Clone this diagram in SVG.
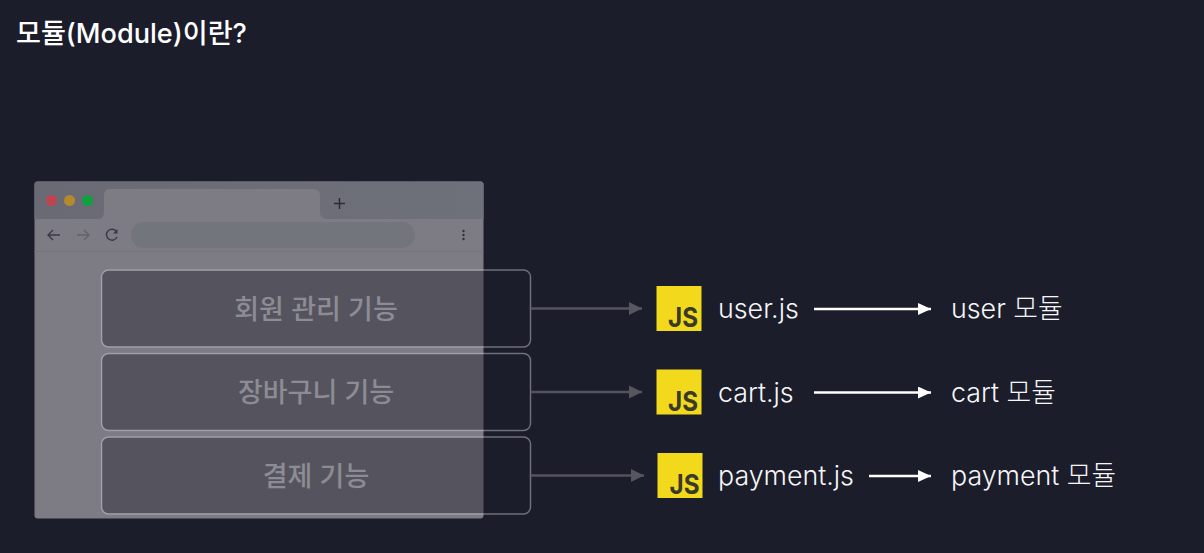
<svg xmlns="http://www.w3.org/2000/svg" width="1204" height="553" viewBox="0 0 1204 553">
<defs>
<linearGradient id="chrome" x1="0" y1="0" x2="1" y2="0"><stop offset="0" stop-color="#696a74"/><stop offset="1" stop-color="#6f717a"/></linearGradient>
<marker id="gh" markerUnits="userSpaceOnUse" markerWidth="14" markerHeight="14" refX="13" refY="7" orient="auto"><path d="M0,0.5 L13,7 L0,13.5 Z" fill="#56565f"/></marker>
<marker id="wh" markerUnits="userSpaceOnUse" markerWidth="14" markerHeight="14" refX="13" refY="6" orient="auto"><path d="M0,0 L13,6 L0,12 Z" fill="#fff"/></marker>
</defs>
<style>
text{font-family:"Inter","Noto Sans CJK KR",sans-serif}
.t{font-size:26.800px;font-weight:300;fill:#f6f6f8}
.f{font-size:27px;font-weight:500;fill:#8d8c95;text-anchor:middle}
.boxfill{fill:#55545e}
.boxo{fill:#1b1d2b;stroke:#6f6f78;stroke-width:1.500}
.edge{fill:none;stroke:#a2a1aa;stroke-width:1.500}
.g{stroke:#53535c;stroke-width:2.500;fill:none;marker-end:url(#gh)}
.w{stroke:#fff;stroke-width:2.500;fill:none;marker-end:url(#wh)}
.yel{fill:#f3d91b}
.js{font-size:27.500px;font-weight:700;fill:#3a3a2a}
</style>
<rect width="1204" height="553" fill="#1b1d2b"/>
<text x="16" y="43" font-size="27.100" font-weight="500" fill="#fff">모듈(Module)이란?</text>

<g id="browser">
<rect x="34.500" y="181.500" width="449" height="337" rx="3" fill="#7d7c85"/>
<path d="M34.500,219 V184.500 a3,3 0 0 1 3,-3 H480.500 a3,3 0 0 1 3,3 V219 Z" fill="url(#chrome)"/>
<path d="M99,219 Q104,218 104,212 V195 Q104,189 110,189 H313 Q320,189 320,195 V212 Q320,218 326,219 Z" fill="#7d7c85"/>
<circle cx="51.500" cy="200.500" r="5.500" fill="#bf4350"/>
<circle cx="69.500" cy="200.500" r="5.500" fill="#b58a2c"/>
<circle cx="87.500" cy="200.500" r="5.500" fill="#0ea13f"/>
<path d="M339.500,198 V209 M334,203.500 H345" stroke="#2b2c36" stroke-width="1.500" fill="none"/>
<rect x="131" y="222" width="284" height="26" rx="13" fill="#73757c"/>
<path d="M60,235 H48 M53,230 L48,235 L53,240" stroke="#393a44" stroke-width="1.400" fill="none"/>
<path d="M77,235 H89 M84,230 L89,235 L84,240" stroke="#62626b" stroke-width="1.400" fill="none"/>
<path d="M116.500,231.500 A5.500,5.500 0 1 0 117,237" stroke="#393a44" stroke-width="1.400" fill="none"/>
<path d="M117.500,229 V233.500 H113" fill="#393a44"/>
<circle cx="463.500" cy="231" r="1.200" fill="#30313a"/><circle cx="463.500" cy="235" r="1.200" fill="#30313a"/><circle cx="463.500" cy="239" r="1.200" fill="#30313a"/>
<path d="M34.500,251.500 H483.500" stroke="#73737c" stroke-width="1"/>
</g>

<g id="node-user">
<rect class="boxo" x="101.500" y="270" width="429" height="77" rx="7"/>
<path class="boxfill" d="M483.500,270 H108.500 a7,7 0 0 0 -7,7 V340 a7,7 0 0 0 7,7 H483.500 Z"/>
<path class="edge" d="M483.500,270 H108.500 a7,7 0 0 0 -7,7 V340 a7,7 0 0 0 7,7 H483.500"/>
<text class="f" x="316" y="319">회원 관리 기능</text>
</g>
<g id="node-cart">
<rect class="boxo" x="101.500" y="353.500" width="429" height="77" rx="7"/>
<path class="boxfill" d="M483.500,353.500 H108.500 a7,7 0 0 0 -7,7 V423.500 a7,7 0 0 0 7,7 H483.500 Z"/>
<path class="edge" d="M483.500,353.500 H108.500 a7,7 0 0 0 -7,7 V423.500 a7,7 0 0 0 7,7 H483.500"/>
<text class="f" x="316" y="402">장바구니 기능</text>
</g>
<g id="node-payment">
<rect class="boxo" x="101.500" y="437" width="429" height="77" rx="7"/>
<path class="boxfill" d="M483.500,437 H108.500 a7,7 0 0 0 -7,7 V507 a7,7 0 0 0 7,7 H483.500 Z"/>
<path class="edge" d="M483.500,437 H108.500 a7,7 0 0 0 -7,7 V507 a7,7 0 0 0 7,7 H483.500"/>
<text class="f" x="316" y="486">결제 기능</text>
</g>

<g id="connectors">
<path class="g" d="M531,308.500 H642"/>
<path class="g" d="M531,392 H642"/>
<path class="g" d="M531,475.500 H644"/>
<path class="w" d="M814,309 H931"/>
<path class="w" d="M814,392.500 H931"/>
<path class="w" d="M869,476 H931"/>
</g>

<g id="file-user">
<rect class="yel" x="656.500" y="286" width="45" height="45"/>
<text class="js" x="668" y="327" textLength="30" lengthAdjust="spacingAndGlyphs">JS</text>
<text class="t" x="718" y="318">user.js</text>
</g>
<g id="file-cart">
<rect class="yel" x="656.500" y="369.500" width="45" height="45"/>
<text class="js" x="668" y="410.500" textLength="30" lengthAdjust="spacingAndGlyphs">JS</text>
<text class="t" x="718" y="401.500">cart.js</text>
</g>
<g id="file-payment">
<rect class="yel" x="657.500" y="453" width="45" height="45"/>
<text class="js" x="669.500" y="494" textLength="30" lengthAdjust="spacingAndGlyphs">JS</text>
<text class="t" x="718" y="485">payment.js</text>
</g>
<g id="module-user"><text class="t" x="951" y="318">user 모듈</text></g>
<g id="module-cart"><text class="t" x="951" y="401.500">cart 모듈</text></g>
<g id="module-payment"><text class="t" x="951" y="485">payment 모듈</text></g>
</svg>
